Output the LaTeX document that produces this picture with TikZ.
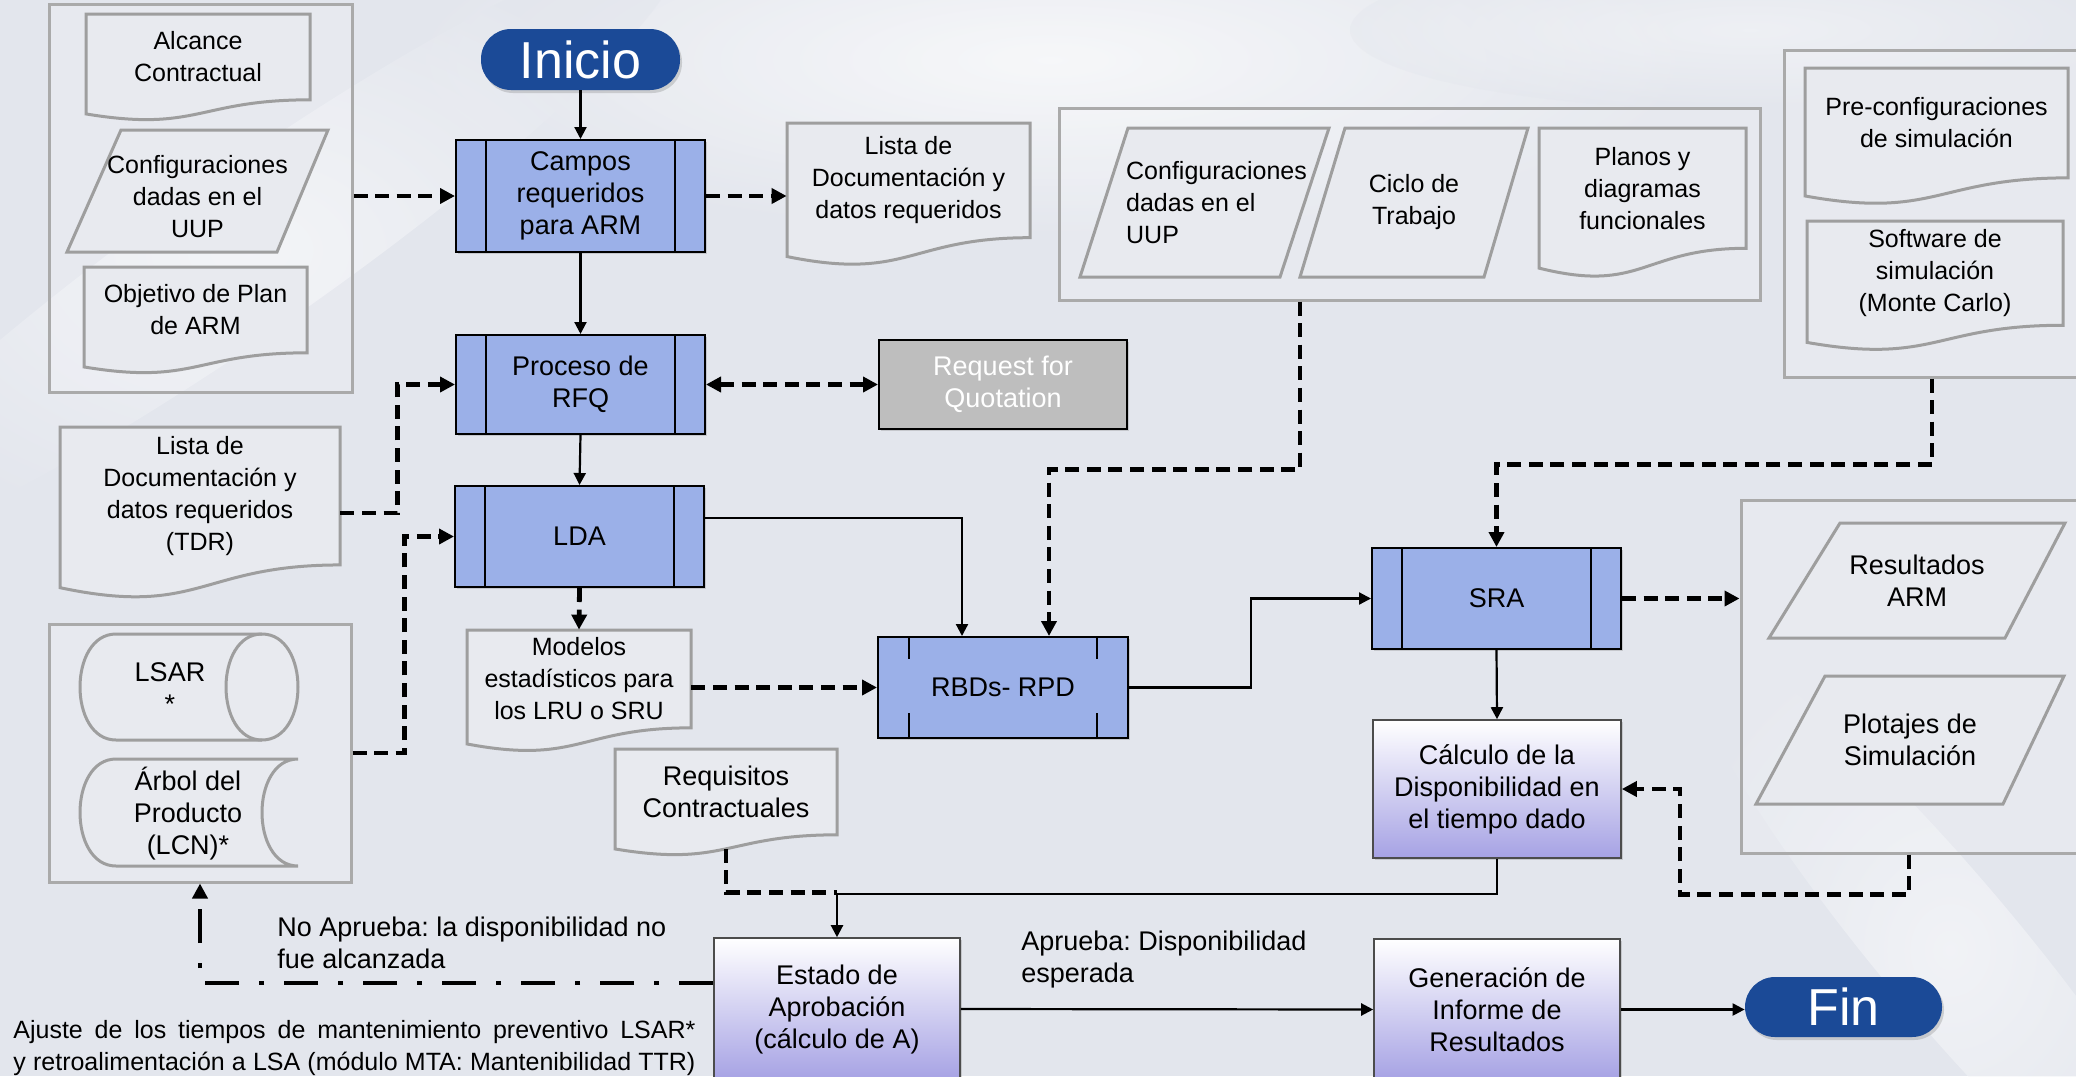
\documentclass[tikz,border=0pt]{standalone}
\usepackage{fontspec}
\setmainfont{Liberation Sans}
\usetikzlibrary{arrows.meta,calc,shadows}

\definecolor{bgc}{RGB}{227,230,237}
\definecolor{procblue}{RGB}{155,176,232}
\definecolor{lav}{RGB}{166,162,228}
\definecolor{docfill}{RGB}{232,234,239}
\definecolor{docline}{RGB}{158,158,158}
\definecolor{grpline}{RGB}{170,170,170}
\definecolor{termblue}{RGB}{27,74,151}
\definecolor{rfqgrey}{RGB}{190,190,190}

\newcommand\smallfs{\fontsize{12.5pt}{16pt}\selectfont\frenchspacing}
\newcommand\largefs{\fontsize{13.5pt}{16pt}\selectfont\frenchspacing}
\newcommand\termfs{\fontsize{26pt}{30pt}\selectfont}

\tikzset{
  % node that covers the box with corners (#1,#2) and (#3,#4)
  area/.style n args={4}{at={({(#1+#3)/2},{(#2+#4)/2})},
    minimum width={(#3-#1)*0.5pt}, minimum height={(#4-#2)*0.5pt}},
  docshape/.style={draw=docline, line width=1.5pt, fill=docfill},
  grpbox/.style={draw=grpline, line width=1.5pt, fill=white, fill opacity=0.15, inner sep=0pt},
  procbox/.style={draw=black, line width=1pt, fill=procblue, inner sep=0pt, font=\largefs,
    drop shadow={shadow xshift=1.2pt, shadow yshift=-1.2pt, opacity=0.3}},
  gradbox/.style={draw=black!70, line width=0.8pt, top color=white, bottom color=lav, inner sep=0pt, font=\largefs,
    drop shadow={shadow xshift=1.2pt, shadow yshift=-1.2pt, opacity=0.3}},
  rfqbox/.style={draw=black, line width=1pt, fill=rfqgrey, text=white, inner sep=0pt, font=\largefs,
    drop shadow={shadow xshift=1.2pt, shadow yshift=-1.2pt, opacity=0.3}},
  termbox/.style={fill=termblue, rounded corners=15pt, text=white, font=\termfs, inner sep=0pt,
    drop shadow={shadow xshift=1pt, shadow yshift=-1.5pt, opacity=0.3}},
  link/.style={line width=1.1pt, -{Triangle[length=6pt,width=6pt]}},
  dline/.style={line width=2.4pt, dash pattern=on 7pt off 3.8pt},
  dlink/.style={dline, -{Triangle[length=7.5pt,width=7.5pt]}},
  ddlink/.style={dline, {Triangle[length=7.5pt,width=7.5pt]}-{Triangle[length=7.5pt,width=7.5pt]}},
  dotlink/.style={line width=2.4pt, dash pattern=on 17pt off 10pt on 2.5pt off 10pt,
    -{Triangle[length=7.5pt,width=7.5pt]}},
  lbl/.style={font=\largefs, align=left, inner sep=0pt, anchor=north west},
}

% document symbol with a wavy lower edge
% #1 node options, #2 name, #3 left x, #4 top y, #5 right x, #6 height, #7 text
\newcommand\docsym[7][]{%
  \pgfmathsetmacro\dRb{#4+0.802*#6}%
  \pgfmathsetmacro\dLb{#4+0.934*#6}%
  \pgfmathsetmacro\dCb{#4+1.107*#6}%
  \pgfmathsetmacro\dMb{#4+0.933*#6}%
  \pgfmathsetmacro\dXm{(#3+#5)/2}%
  \draw[docshape] (#3,#4) -- (#5,#4) -- (#5,\dRb)
     .. controls (\dXm,\dRb) and (\dXm,\dCb) .. (#3,\dLb) -- cycle;
  \node[area={#3}{#4}{#5}{\dRb}, #1] (#2) {#7};
  \coordinate (#2-b) at (\dXm,\dMb);
}

% data symbol (parallelogram)
% #1 node options, #2 name, #3 top y, #4 bottom y, #5 top-left x, #6 top-right x,
% #7 bottom-left x, #8 bottom-right x, #9 text
\newcommand\datasym[9][]{%
  \draw[docshape] (#5,#3) -- (#6,#3) -- (#8,#4) -- (#7,#4) -- cycle;
  \node[area={#7}{#3}{#6}{#4}, #1] (#2) {#9};
}

% predefined process: box with a bar at each side
% #1 name, #2..#5 corners x1 y1 x2 y2, #6 text
\newcommand\procsym[6]{%
  \node[procbox, area={#2}{#3}{#4}{#5}] (#1) {#6};
  \draw[line width=1pt] ([xshift=15.5pt]#1.north west) -- ([xshift=15.5pt]#1.south west)
    ([xshift=-15.5pt]#1.north east) -- ([xshift=-15.5pt]#1.south east);
}

\begin{document}
\begin{tikzpicture}[x=0.5pt, y=-0.5pt, every node/.style={font=\smallfs, align=center, inner sep=0pt}]
\path[use as bounding box] (0,0) rectangle (2076,1076);
\clip (0,0) rectangle (2076,1076);

% background with soft light sweeps
\fill[bgc] (0,0) rectangle (2076,1076);
\shade[inner color=white, outer color=bgc, opacity=0.7] (1050,60) ellipse [x radius=330pt, y radius=90pt];
\shade[inner color=white, outer color=bgc, opacity=0.5, rotate around={35:(250,250)}] (250,250) ellipse [x radius=260pt, y radius=40pt];
\shade[inner color=white, outer color=bgc, opacity=0.5, rotate around={-50:(1950,950)}] (1950,950) ellipse [x radius=200pt, y radius=35pt];
\shade[inner color=white, outer color=bgc, opacity=0.4] (1750,30) ellipse [x radius=200pt, y radius=40pt];

% ---------- group frames ----------
\node[grpbox, area={49}{4}{352}{392}] (g1) {};
\node[grpbox, area={49}{624}{351}{882}] (g2) {};
\node[grpbox, area={1059}{108}{1760}{300}] (g3) {};
\node[grpbox, area={1784}{50}{2095}{377}] (g4) {};
\node[grpbox, area={1741}{500}{2095}{853}] (g5) {};

% ---------- inputs on the left ----------
\docsym{alc}{86}{14}{310}{107}{Alcance\\Contractual}
\datasym[yshift=-3pt]{cfga}{130}{252}{121}{328}{67}{277}{Configuraciones\\dadas en el\\UUP}
\docsym{obj}{84}{267}{307}{107}{Objetivo de Plan\\de ARM}
\docsym{tdr}{60}{427}{340}{172}{Lista de\\Documentación y\\datos requeridos\\(TDR)}

% LSAR database (horizontal cylinder)
\draw[docshape] (116,634) -- (262,634) .. controls (310,634) and (310,740) .. (262,740)
  -- (116,740) .. controls (68,740) and (68,634) .. (116,634) -- cycle;
\draw[docline, line width=1.5pt] (262,634) .. controls (214,634) and (214,740) .. (262,740);
\node[font=\largefs] (lsar) at (170,688) {LSAR\\*};

% product tree (stored data)
\draw[docshape] (116,759) -- (298,759) .. controls (250,759) and (250,866) .. (298,866)
  -- (116,866) .. controls (68,866) and (68,759) .. (116,759) -- cycle;
\node[font=\largefs] (arbol) at (188,814) {Árbol del\\Producto\\(LCN)*};

% ---------- main flow ----------
\node[termbox, minimum width=99.5pt, minimum height=30.5pt] (inicio) at (580.5,59.5) {Inicio};
\procsym{campos}{456}{140}{705}{252}{Campos\\requeridos\\para ARM}
\procsym{proc}{456}{335}{705}{434}{Proceso de\\RFQ}
\procsym{lda}{455}{486}{704}{587}{LDA}

\docsym{lista}{787}{123}{1030}{143}{Lista de\\Documentación y\\datos requeridos}
\node[rfqbox, area={879}{340}{1127}{429}] (rfq) {Request for\\Quotation};
\docsym{mod}{467}{630}{691}{122}{Modelos\\estadísticos para\\los LRU o SRU}
\docsym[font=\largefs]{req}{615}{749}{837}{107}{Requisitos\\Contractuales}

% RBD block with short side marks
\node[procbox, area={878}{637}{1128}{738}] (rbd) {RBDs- RPD};
\draw[line width=1pt] ([xshift=16pt]rbd.north west) -- ++(0,23)
  ([xshift=-16pt]rbd.north east) -- ++(0,23)
  ([xshift=16pt]rbd.south west) -- ++(0,-26)
  ([xshift=-16pt]rbd.south east) -- ++(0,-26);

% inputs at the top
\datasym[align=left, xshift=6pt]{cfgb}{128}{277}{1128}{1329}{1080}{1280}{Configuraciones\\dadas en el\\UUP}
\datasym{ciclo}{128}{277}{1345}{1528}{1300}{1484}{Ciclo de\\Trabajo}
\docsym{planos}{1539}{128}{1746}{150}{Planos y\\diagramas\\funcionales}
\docsym{pre}{1805}{68}{2068}{137}{Pre-configuraciones\\de simulación}
\docsym{soft}{1807}{221}{2063}{130}{Software de\\simulación\\(Monte Carlo)}

% simulation and outputs
\procsym{sra}{1372}{548}{1621}{649}{SRA}
\datasym[font=\largefs]{res}{523}{638}{1840}{2065}{1769}{2005}{Resultados\\ARM}
\datasym[font=\largefs]{plot}{676}{804}{1825}{2064}{1756}{2003}{Plotajes de\\Simulación}
\node[gradbox, area={1373}{720}{1621}{858}] (calc) {Cálculo de la\\Disponibilidad en\\el tiempo dado};
\node[gradbox, area={714}{938}{960}{1080}] (estado) {Estado de\\Aprobación\\(cálculo de A)};
\node[gradbox, area={1374}{939}{1620}{1080}] (gen) {Generación de\\Informe de\\Resultados};
\node[termbox, minimum width=98.5pt, minimum height=30pt] (fin) at (1843.5,1007) {Fin};

% ---------- connectors ----------
\draw[link] (inicio.south) -- (campos.north);
\draw[link] (campos.south) -- (proc.north);
\draw[link] (proc.south) -- (lda.north);
\draw[dlink] (g1.east |- campos.west) -- (campos.west);
\draw[dlink] (campos.east) -- (campos.east -| lista.west);
\draw[ddlink] (proc.east) -- (rfq.west);
\draw[dlink] ([yshift=-8.5pt]tdr.east) -- ++(57,0) |- (proc.west);
\draw[dlink] (g2.east) -- ++(52,0) |- (lda.west);
\draw[dlink] (lda.south) -- (mod.north);
\draw[link] ([yshift=9.25pt]lda.east) -| ([xshift=-20.5pt]rbd.north);
\draw[dlink] ([xshift=-54.75pt]g3.south) -- ++(0,168) -| ([xshift=23pt]rbd.north);
\draw[dlink] (mod.east |- rbd.west) -- (rbd.west);
\draw[link] (rbd.east) -- ++(122,0) |- (sra.west);
\draw[dlink] ([xshift=-3.75pt]g4.south) -- ++(0,86) -| (sra.north);
\draw[dlink] (sra.east) -- (g5.west |- sra.east);
\draw[link] (sra.south) -- (calc.north);
\draw[dlink] ([xshift=-4.5pt]g5.south) -- ++(0,40) -- ++(-229,0) |- (calc.east);
\draw[link] (calc.south) -- ++(0,35) -| (estado.north);
\draw[dline] (req-b) |- ([yshift=22.5pt]estado.north);
\draw[dotlink] ([yshift=13pt]estado.west) -| (g2.south);
\draw[link] (estado.east) -- (gen.west);
\draw[link] (gen.east) -- (gen.east -| fin.west);

% ---------- labels ----------
\node[lbl] (noap) at (277,917) {No Aprueba: la disponibilidad no\\fue alcanzada};
\node[lbl] (ap) at (1021,931) {Aprueba: Disponibilidad\\esperada};
\node[lbl, font=\smallfs] (ajuste) at (13,1020)
  {\makebox[341pt][s]{Ajuste de los tiempos de mantenimiento preventivo LSAR*}\\
   \makebox[341pt][s]{y retroalimentación a LSA (módulo MTA: Mantenibilidad TTR)}};
\end{tikzpicture}
\end{document}
